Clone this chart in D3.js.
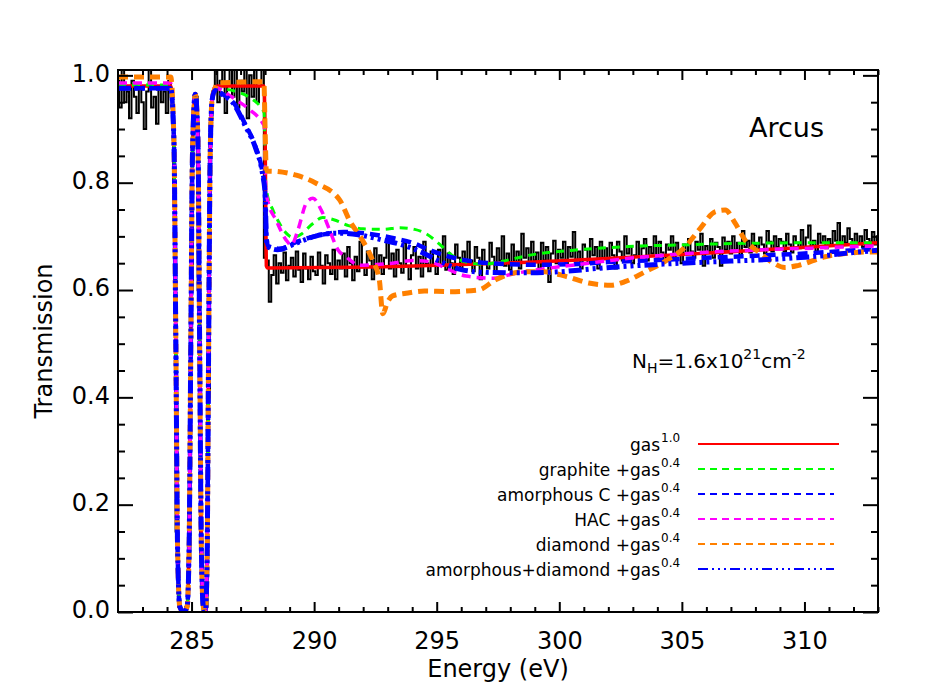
<!DOCTYPE html>
<html lang="en">
<head>
<meta charset="UTF-8">
<title>Arcus transmission</title>
<script src="https://cdn.jsdelivr.net/npm/d3@7"></script>
<style>
  body { margin: 0; background: #fff; }
  svg text { font-family: 'DejaVu Sans', sans-serif; fill: #000; }
</style>
</head>
<body>
<div id="chart"></div>
<script>
// ---- data ----
const xMajor = [285, 290, 295, 300, 305, 310];
const xMinor = [283, 284, 286, 287, 288, 289, 291, 292, 293, 294, 296, 297, 298, 299,
                301, 302, 303, 304, 306, 307, 308, 309, 311, 312, 313];
const yMajor = [0, 0.2, 0.4, 0.6, 0.8, 1.0];
const yMinor = [0.05, 0.1, 0.15, 0.25, 0.3, 0.35, 0.45, 0.5, 0.55, 0.65, 0.7, 0.75, 0.85, 0.9, 0.95];

// observed spectrum, 0.1 eV bins starting at 282.0 eV
const obsStart = 282.0, obsStep = 0.1;
const obsT = [
  0.99,0.94,1.02,0.95,0.97,0.92,0.99,0.96,0.93,0.98,
  0.95,0.90,0.97,1.02,0.94,0.96,0.91,0.98,0.95,0.97,
  0.93,0.99,0.96,
  0.80,0.15,0.01,0.0,0.0,0.01,0.10,0.60,0.93,0.96,
  0.60,0.10,0.0,0.01,0.40,0.92,0.97,
  1.02,0.95,0.99,1.03,0.93,0.98,1.01,0.96,1.04,0.94,
  0.99,0.97,1.02,0.92,1.00,0.96,1.03,0.95,0.98,1.01,
  0.66,
  0.655,0.578,0.628,0.665,0.612,0.650,0.632,0.670,0.618,0.645,
  0.660,0.625,0.672,0.638,0.615,0.668,0.640,0.620,0.662,0.635,
  0.628,0.670,0.645,0.612,0.665,0.650,0.630,0.675,0.620,0.655,
  0.640,0.668,0.625,0.680,0.650,0.618,0.662,0.635,0.690,0.645,
  0.628,0.672,0.655,0.620,0.678,0.640,0.665,0.630,0.660,0.695,
  0.640,0.668,0.625,0.675,0.650,0.632,0.688,0.645,0.620,0.665,
  0.680,0.640,0.662,0.625,0.690,0.650,0.635,0.672,0.648,0.630,
  0.675,0.645,0.700,0.638,0.668,0.650,0.630,0.685,0.660,0.640,
  0.672,0.648,0.690,0.655,0.635,0.680,0.660,0.620,0.675,0.650,
  0.640,0.688,0.662,0.630,0.678,0.655,0.700,0.645,0.668,0.638,
  0.685,0.650,0.672,0.640,0.705,0.660,0.678,0.645,0.690,0.655,
  0.670,0.640,0.688,0.655,0.680,0.615,0.668,0.692,0.650,0.675,
  0.660,0.690,0.648,0.680,0.662,0.708,0.655,0.672,0.640,0.685,
  0.675,0.650,0.695,0.665,0.680,0.640,0.690,0.660,0.678,0.652,
  0.688,0.665,0.640,0.690,0.672,0.655,0.700,0.668,0.680,0.650,
  0.665,0.690,0.660,0.678,0.695,0.655,0.680,0.668,0.700,0.662,
  0.690,0.670,0.655,0.685,0.675,0.700,0.660,0.688,0.672,0.650,
  0.685,0.668,0.695,0.672,0.660,0.690,0.675,0.705,0.645,0.682,
  0.672,0.695,0.660,0.688,0.680,0.645,0.698,0.675,0.690,0.668,
  0.700,0.675,0.688,0.665,0.710,0.680,0.692,0.670,0.705,0.684,
  0.675,0.698,0.685,0.668,0.710,0.690,0.672,0.700,0.680,0.695,
  0.690,0.672,0.705,0.685,0.670,0.700,0.688,0.678,0.712,0.680,
  0.698,0.720,0.680,0.692,0.672,0.705,0.688,0.700,0.678,0.695,
  0.685,0.710,0.692,0.725,0.680,0.700,0.688,0.715,0.695,0.682,
  0.705,0.688,0.700,0.680,0.712,0.695,0.690,0.708,0.685,0.700
];

// the two gas absorption lines, shared by every model
const gasDips = [
  [284.28,0.88],[284.36,0.50],[284.43,0.12],[284.52,0.01],[284.68,0.0],[284.82,0.01],
  [284.90,0.12],[284.97,0.50],[285.04,0.86],[285.15,0.965],[285.26,0.88],[285.33,0.50],
  [285.40,0.12],[285.48,0.01],[285.56,0.0],[285.63,0.08],[285.69,0.45],[285.76,0.85],
  [285.84,0.955]
];

const gasPre      = [[282,0.980],[284.15,0.980]];
const gasPost     = [[285.95,0.978],[286.1,0.980],[287.95,0.980],[288.0,0.90],[288.05,0.645],
                     [288.1,0.641],[313,0.688]];

const graphitePre  = [[282,0.982],[284.15,0.982]];
const graphitePost = [[285.95,0.976],[286.8,0.970],[287.4,0.958],[287.8,0.942],[287.96,0.930],
                      [288.02,0.80],[288.07,0.782],[288.32,0.749],[288.59,0.724],[288.86,0.706],
                      [289.15,0.698],[289.5,0.705],[289.9,0.722],[290.35,0.735],[290.8,0.731],
                      [291.4,0.720],[292.0,0.714],[292.8,0.713],[293.5,0.716],[294.1,0.713],
                      [294.6,0.704],[295.1,0.686],[295.65,0.664],[296.2,0.652],[296.9,0.648],
                      [297.6,0.653],[298.8,0.665],[300.8,0.675],[302.8,0.681],[304.9,0.684],
                      [307.6,0.687],[310.3,0.688],[313,0.688]];

const amCPre  = [[282,0.976],[284.15,0.976]];
const amCPost = [[285.95,0.972],[286.3,0.964],[286.7,0.950],[287.2,0.908],[287.6,0.868],
                 [287.9,0.818],[287.99,0.790],[288.05,0.700],[288.12,0.682],[288.6,0.677],
                 [289.3,0.690],[290.3,0.703],[291.2,0.708],[292.2,0.705],[293.2,0.697],
                 [294.0,0.688],[294.8,0.673],[295.6,0.661],[296.5,0.653],[297.5,0.649],
                 [299.0,0.647],[300.5,0.648],[302.0,0.652],[304.0,0.656],[306.0,0.660],
                 [308.0,0.664],[310.0,0.668],[312.0,0.674],[313,0.677]];

const hacPre  = [[282,0.986],[284.15,0.986]];
const hacPost = [[285.95,0.978],[286.4,0.967],[286.9,0.952],[287.4,0.935],[287.9,0.911],
                 [287.97,0.905],[288.03,0.785],[288.1,0.768],[288.45,0.730],[288.86,0.693],
                 [289.07,0.684],[289.34,0.712],[289.68,0.762],[289.95,0.771],[290.29,0.749],
                 [290.63,0.712],[290.97,0.675],[291.3,0.662],[291.85,0.646],[292.4,0.647],
                 [293.2,0.650],[294.0,0.655],[294.8,0.652],[295.4,0.640],[296.2,0.626],
                 [297.3,0.622],[298.1,0.630],[299.45,0.640],[301.2,0.650],[302.84,0.659],
                 [304.33,0.665],[306.23,0.671],[308.27,0.675],[310.3,0.678],[312.06,0.681],
                 [313,0.682]];

const diamondPre  = [[282,0.997],[284.15,0.997]];
const diamondPost = [[285.95,0.975],[286.1,0.986],[287.95,0.988],[288.0,0.90],[288.05,0.822],
                     [288.5,0.821],[289.27,0.814],[290.08,0.799],[291.04,0.768],[291.44,0.730],
                     [291.97,0.693],[292.38,0.656],[292.66,0.619],[292.8,0.556],[293.0,0.578],
                     [293.2,0.589],[293.75,0.594],[294.5,0.598],[295.5,0.597],[296.7,0.600],
                     [297.4,0.619],[298.5,0.634],[299.4,0.634],[300.3,0.625],[301.2,0.613],
                     [302.1,0.609],[302.7,0.616],[303.5,0.634],[304.3,0.653],[305.15,0.681],
                     [305.7,0.712],[306.37,0.746],[306.77,0.749],[307.18,0.724],[307.58,0.693],
                     [308.13,0.671],[308.67,0.652],[309.2,0.642],[309.76,0.646],[310.84,0.662],
                     [311.66,0.668],[312.73,0.671],[313,0.671]];

const mixPre  = [[282,0.976],[284.15,0.976]];
const mixPost = [[285.95,0.972],[286.3,0.963],[286.7,0.948],[287.2,0.905],[287.6,0.866],
                 [287.9,0.815],[288.0,0.780],[288.05,0.700],[288.1,0.681],[288.5,0.675],
                 [289.3,0.688],[290.1,0.701],[290.9,0.706],[291.8,0.703],[292.8,0.693],
                 [293.6,0.684],[294.4,0.670],[295.2,0.652],[296.0,0.638],[297.0,0.633],
                 [298.5,0.632],[300.0,0.634],[301.5,0.640],[303.0,0.645],[305.0,0.650],
                 [307.0,0.654],[309.0,0.658],[311.0,0.665],[312.0,0.670],[313,0.674]];

const legendLabels = ['gas', 'graphite +gas', 'amorphous C +gas', 'HAC +gas',
                      'diamond +gas', 'amorphous+diamond +gas'];
const legendPowers = ['1.0', '0.4', '0.4', '0.4', '0.4', '0.4'];

// ---- chart ----
const W = 950, H = 700;
const plot = {left: 118, right: 878, top: 70, bottom: 612};

const svg = d3.select('#chart').append('svg')
  .attr('width', W).attr('height', H);

const x = d3.scaleLinear().domain([282, 313]).range([plot.left, plot.right]);
const y = d3.scaleLinear().domain([0, 1.01]).range([plot.bottom, plot.top]);

svg.append('clipPath').attr('id', 'clip').append('rect')
  .attr('x', plot.left).attr('y', plot.top)
  .attr('width', plot.right - plot.left).attr('height', plot.bottom - plot.top);

const lines = svg.append('g').attr('clip-path', 'url(#clip)');

// observed data as a histogram
const obs = obsT.map((t, i) => [obsStart + i * obsStep, t]);
lines.append('path')
  .attr('d', d3.line().x(d => x(d[0])).y(d => y(d[1])).curve(d3.curveStep)(obs))
  .attr('fill', 'none').attr('stroke', '#000').attr('stroke-width', 2);

const model = d3.line().x(d => x(d[0])).y(d => y(d[1])).curve(d3.curveMonotoneX);

// draw order: red, green, blue dashed, magenta, orange, blue dash-dot
const models = [
  {pts: gasPre.concat(gasDips, gasPost),           color: '#ff0000', w: 3.5, dash: null},
  {pts: graphitePre.concat(gasDips, graphitePost), color: '#00ff00', w: 3,   dash: '8,6'},
  {pts: amCPre.concat(gasDips, amCPost),           color: '#0000ff', w: 4.5, dash: '10,6'},
  {pts: hacPre.concat(gasDips, hacPost),           color: '#ff00ff', w: 3.5, dash: '9,6'},
  {pts: diamondPre.concat(gasDips, diamondPost),   color: '#ff8000', w: 5,   dash: '10,6'},
  {pts: mixPre.concat(gasDips, mixPost),           color: '#0000ff', w: 5,   dash: '13,4,3,4,3,4,3,4'}
];

models.forEach(m => {
  lines.append('path')
    .attr('d', model(m.pts))
    .attr('fill', 'none')
    .attr('stroke', m.color)
    .attr('stroke-width', m.w)
    .attr('stroke-dasharray', m.dash);
});

// axes, ticks pointing inward on all four sides
function styleAxis(g) {
  g.select('.domain').remove();
  g.selectAll('line').attr('stroke', '#000').attr('stroke-width', 2);
  g.attr('font-size', 24).attr('font-family', null);
}

svg.append('g').attr('transform', `translate(0,${plot.bottom})`)
  .call(d3.axisBottom(x).tickValues(xMajor).tickSize(-10).tickPadding(20).tickFormat(d3.format('d')))
  .call(styleAxis);
svg.append('g').attr('transform', `translate(0,${plot.bottom})`)
  .call(d3.axisBottom(x).tickValues(xMinor).tickSize(-5).tickFormat(''))
  .call(styleAxis);
svg.append('g').attr('transform', `translate(0,${plot.top})`)
  .call(d3.axisTop(x).tickValues(xMajor).tickSize(-10).tickFormat(''))
  .call(styleAxis);
svg.append('g').attr('transform', `translate(0,${plot.top})`)
  .call(d3.axisTop(x).tickValues(xMinor).tickSize(-5).tickFormat(''))
  .call(styleAxis);

svg.append('g').attr('transform', `translate(${plot.left},0)`)
  .call(d3.axisLeft(y).tickValues(yMajor).tickSize(-15).tickPadding(8).tickFormat(d3.format('.1f')))
  .call(styleAxis)
  .selectAll('text').attr('dy', '0.24em');
svg.append('g').attr('transform', `translate(${plot.left},0)`)
  .call(d3.axisLeft(y).tickValues(yMinor).tickSize(-7).tickFormat(''))
  .call(styleAxis);
svg.append('g').attr('transform', `translate(${plot.right},0)`)
  .call(d3.axisRight(y).tickValues(yMajor).tickSize(-15).tickFormat(''))
  .call(styleAxis);
svg.append('g').attr('transform', `translate(${plot.right},0)`)
  .call(d3.axisRight(y).tickValues(yMinor).tickSize(-7).tickFormat(''))
  .call(styleAxis);

svg.append('rect')
  .attr('x', plot.left).attr('y', plot.top)
  .attr('width', plot.right - plot.left).attr('height', plot.bottom - plot.top)
  .attr('fill', 'none').attr('stroke', '#000').attr('stroke-width', 2);

// axis titles
svg.append('text')
  .attr('x', (plot.left + plot.right) / 2).attr('y', 677)
  .attr('text-anchor', 'middle').attr('font-size', 24)
  .text('Energy (eV)');
svg.append('text')
  .attr('transform', `translate(52,${(plot.top + plot.bottom) / 2}) rotate(-90)`)
  .attr('text-anchor', 'middle').attr('font-size', 24)
  .text('Transmission');

// annotations
svg.append('text')
  .attr('x', 824).attr('y', 137).attr('text-anchor', 'end').attr('font-size', 27)
  .text('Arcus');

const nh = svg.append('text').attr('x', 632).attr('y', 368).attr('font-size', 20);
nh.append('tspan').text('N');
nh.append('tspan').attr('font-size', 14).attr('dy', 5).text('H');
nh.append('tspan').attr('dy', -5).text('=1.6x10');
nh.append('tspan').attr('font-size', 14).attr('dy', -9).text('21');
nh.append('tspan').attr('dy', 9).text('cm');
nh.append('tspan').attr('font-size', 14).attr('dy', -9).text('-2');

// legend
const legend = svg.append('g');
legendLabels.forEach((label, i) => {
  const by = 451 + i * 25;
  const m = models[i];
  legend.append('text')
    .attr('x', 660).attr('y', by).attr('text-anchor', 'end').attr('font-size', 17)
    .text(label);
  legend.append('text')
    .attr('x', 661).attr('y', by - 9).attr('font-size', 12)
    .text(legendPowers[i]);
  legend.append('line')
    .attr('x1', 698).attr('x2', m.dash ? 834 : 839)
    .attr('y1', by - 7).attr('y2', by - 7)
    .attr('stroke', m.color).attr('stroke-width', 2)
    .attr('stroke-dasharray', m.dash ? (i === 5 ? '10,4,2,4,2,4,2,4' : '7,5') : null);
});
</script>
</body>
</html>
